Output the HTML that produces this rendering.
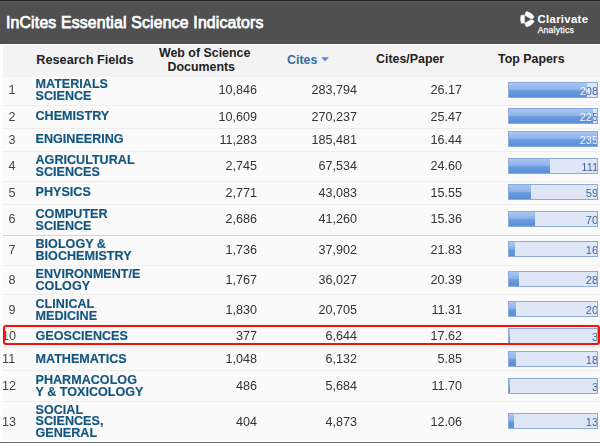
<!DOCTYPE html><html><head><meta charset="utf-8"><title>InCites Essential Science Indicators</title><style>
html,body{margin:0;padding:0;}
body{width:600px;height:443px;overflow:hidden;background:#fff;position:relative;font-family:"Liberation Sans",Arial,sans-serif;}
#hdr{position:absolute;left:0;top:0;width:600px;height:44px;background:linear-gradient(#232323 0,#232323 1px,#5a5a5a 1px,#5a5a5a 2px,#505050 2px);box-sizing:border-box;}
#title{position:absolute;left:6px;top:13.3px;font-size:15.8px;font-weight:normal;-webkit-text-stroke:0.75px #fff;color:#fff;white-space:nowrap;line-height:20px;letter-spacing:0.18px;}
#logo{position:absolute;left:515px;top:8px;}
#cl1{position:absolute;left:537.5px;top:12.3px;font-size:11.4px;font-weight:bold;color:#fff;line-height:14px;white-space:nowrap;letter-spacing:0.3px}
#cl2{position:absolute;left:537.7px;top:25px;font-size:8.6px;color:#fff;-webkit-text-stroke:0.25px #fff;line-height:10px;white-space:nowrap;letter-spacing:0.2px}
#tbl{position:absolute;left:3px;top:45px;width:597px;height:395.5px;background:#fafafa;}
#thead{position:absolute;left:3px;top:45px;width:597px;height:32px;background:#f3f3f3;}
.th{position:absolute;font-size:12.4px;font-weight:bold;color:#222;white-space:nowrap;line-height:14px;}
.sep{position:absolute;left:3px;width:597px;height:1px;background:#eeeeee;}
.seam{position:absolute;left:3px;width:597px;height:1px;background:#d3d3d3;border-bottom:1px solid #fdfdfd;}
.idx{transform:scaleY(1.06);position:absolute;font-size:12.6px;color:#444;line-height:14px;white-space:nowrap;}
.nm{transform:scaleY(1.06);position:absolute;left:35.5px;font-size:12.6px;font-weight:bold;color:#12557f;-webkit-text-stroke:0.15px #12557f;line-height:11.037735849056602px;white-space:nowrap;}
.num{transform:scaleY(1.06);position:absolute;font-size:12.6px;color:#333;line-height:14px;text-align:right;white-space:nowrap;}
.bar{position:absolute;left:508px;width:90px;height:16px;background:#dfe7f6;border:1px solid #8eaadb;box-sizing:border-box;overflow:hidden;}
.bar .v{position:absolute;left:0;width:89.2px;text-align:right;top:0.9px;font-size:11.1px;line-height:15px;color:transparent;-webkit-background-clip:text;background-clip:text;}
.fill{position:absolute;left:0;top:0;height:14px;overflow:hidden;background:linear-gradient(#a9c6ef 0%,#8fb4ea 45%,#6a9be0 55%,#5a8ed8 100%);}
#red{position:absolute;left:3px;top:324.9px;width:596.6px;height:20.1px;border:2px solid #fb1009;border-radius:3px;box-sizing:border-box;}
#bot{position:absolute;left:0;top:441.6px;width:600px;height:1.4px;background:linear-gradient(#8a8a8a,#4a4a4a);}
</style></head><body>
<div id="hdr"></div><div id="title">InCites Essential Science Indicators</div>
<svg id="logo" width="22" height="22" viewBox="0 0 22 22"><g fill="#fff" stroke="#fff" stroke-width="0.5" stroke-linejoin="round" transform="translate(0,0.35)"><path d="M6.1 6.8 L9.4 6.8 L9.6 14.7 L6.3 15.0 Q4.7 10.9 6.1 6.8 Z"/><path d="M9.9 7.0 L10.8 3.7 L12.3 3.25 Q16.9 4.9 19.1 8.4 L17.8 10.2 L15.9 10.3 Z"/><path d="M9.9 14.7 L10.8 18.0 L12.3 18.45 Q16.9 16.8 19.1 13.3 L17.8 11.5 L15.9 11.4 Z"/></g></svg>
<div id="cl1">Clarivate</div><div id="cl2">Analytics</div>
<div id="tbl"></div><div id="thead"></div>
<div class="th" style="left:36.3px;top:52.6px;font-size:12.7px">Research Fields</div>
<div class="th" style="left:159px;top:45.9px">Web of Science</div>
<div class="th" style="left:167.5px;top:60.4px">Documents</div>
<div class="th" style="left:287px;top:52.7px;color:#356ba5">Cites</div>
<svg style="position:absolute;left:320.8px;top:57.4px" width="9" height="5" viewBox="0 0 9 5"><path d="M0.3 0.3 L7.9 0.3 L4.1 4.4 Z" fill="#5788d0"/></svg>
<div class="th" style="left:376px;top:52.4px">Cites/Paper</div>
<div class="th" style="left:498px;top:52.4px">Top Papers</div>
<div class="idx" style="top:83.40px;left:8.6px">1</div>
<div class="nm" style="top:79.46px">MATERIALS<br>SCIENCE</div>
<div class="num" style="right:343px;top:83.40px">10,846</div>
<div class="num" style="right:243px;top:83.40px">283,794</div>
<div class="num" style="right:138px;top:83.40px">26.17</div>
<div class="bar" style="top:82px"><div class="fill" style="width:77.9px"></div><span class="v" style="background-image:linear-gradient(90deg,#fff 0,#fff 77.9px,#3c5f97 77.9px)">208</span></div>
<div class="sep" style="top:104.5px"></div>
<div class="idx" style="top:109.70px;left:8.6px">2</div>
<div class="nm" style="top:111.28px">CHEMISTRY</div>
<div class="num" style="right:343px;top:109.70px">10,609</div>
<div class="num" style="right:243px;top:109.70px">270,237</div>
<div class="num" style="right:138px;top:109.70px">25.47</div>
<div class="bar" style="top:108px"><div class="fill" style="width:84.3px"></div><span class="v" style="background-image:linear-gradient(90deg,#fff 0,#fff 84.3px,#3c5f97 84.3px)">225</span></div>
<div class="sep" style="top:127.5px"></div>
<div class="idx" style="top:132.70px;left:8.6px">3</div>
<div class="nm" style="top:134.28px">ENGINEERING</div>
<div class="num" style="right:343px;top:132.70px">11,283</div>
<div class="num" style="right:243px;top:132.70px">185,481</div>
<div class="num" style="right:138px;top:132.70px">16.44</div>
<div class="bar" style="top:131px"><div class="fill" style="width:88.0px"></div><span class="v" style="background-image:linear-gradient(90deg,#fff 0,#fff 88.0px,#3c5f97 88.0px)">235</span></div>
<div class="sep" style="top:150.5px"></div>
<div class="idx" style="top:159.20px;left:8.6px">4</div>
<div class="nm" style="top:155.26px">AGRICULTURAL<br>SCIENCES</div>
<div class="num" style="right:343px;top:159.20px">2,745</div>
<div class="num" style="right:243px;top:159.20px">67,534</div>
<div class="num" style="right:138px;top:159.20px">24.60</div>
<div class="bar" style="top:158px"><div class="fill" style="width:40.8px"></div><span class="v" style="background-image:linear-gradient(90deg,#fff 0,#fff 40.8px,#3c5f97 40.8px)">111</span></div>
<div class="sep" style="top:180.5px"></div>
<div class="idx" style="top:185.70px;left:8.6px">5</div>
<div class="nm" style="top:187.28px">PHYSICS</div>
<div class="num" style="right:343px;top:185.70px">2,771</div>
<div class="num" style="right:243px;top:185.70px">43,083</div>
<div class="num" style="right:138px;top:185.70px">15.55</div>
<div class="bar" style="top:184px"><div class="fill" style="width:21.7px"></div><span class="v" style="background-image:linear-gradient(90deg,#fff 0,#fff 21.7px,#3c5f97 21.7px)">59</span></div>
<div class="sep" style="top:203.5px"></div>
<div class="idx" style="top:212.45px;left:8.6px">6</div>
<div class="nm" style="top:208.51px">COMPUTER<br>SCIENCE</div>
<div class="num" style="right:343px;top:212.45px">2,686</div>
<div class="num" style="right:243px;top:212.45px">41,260</div>
<div class="num" style="right:138px;top:212.45px">15.36</div>
<div class="bar" style="top:211px"><div class="fill" style="width:25.8px"></div><span class="v" style="background-image:linear-gradient(90deg,#fff 0,#fff 25.8px,#3c5f97 25.8px)">70</span></div>
<div class="seam" style="top:234.5px"></div>
<div class="idx" style="top:242.60px;left:8.6px">7</div>
<div class="nm" style="top:238.66px">BIOLOGY &amp;<br>BIOCHEMISTRY</div>
<div class="num" style="right:343px;top:242.60px">1,736</div>
<div class="num" style="right:243px;top:242.60px">37,902</div>
<div class="num" style="right:138px;top:242.60px">21.83</div>
<div class="bar" style="top:241px"><div class="fill" style="width:5.9px"></div><span class="v" style="background-image:linear-gradient(90deg,#fff 0,#fff 5.9px,#3c5f97 5.9px)">16</span></div>
<div class="sep" style="top:264.5px"></div>
<div class="idx" style="top:272.70px;left:8.6px">8</div>
<div class="nm" style="top:268.76px">ENVIRONMENT/E<br>COLOGY</div>
<div class="num" style="right:343px;top:272.70px">1,767</div>
<div class="num" style="right:243px;top:272.70px">36,027</div>
<div class="num" style="right:138px;top:272.70px">20.39</div>
<div class="bar" style="top:271px"><div class="fill" style="width:10.3px"></div><span class="v" style="background-image:linear-gradient(90deg,#fff 0,#fff 10.3px,#3c5f97 10.3px)">28</span></div>
<div class="sep" style="top:294.0px"></div>
<div class="idx" style="top:302.70px;left:8.6px">9</div>
<div class="nm" style="top:298.76px">CLINICAL<br>MEDICINE</div>
<div class="num" style="right:343px;top:302.70px">1,830</div>
<div class="num" style="right:243px;top:302.70px">20,705</div>
<div class="num" style="right:138px;top:302.70px">11.31</div>
<div class="bar" style="top:301px"><div class="fill" style="width:7.4px"></div><span class="v" style="background-image:linear-gradient(90deg,#fff 0,#fff 7.4px,#3c5f97 7.4px)">20</span></div>
<div class="sep" style="top:323.5px"></div>
<div class="idx" style="top:329.10px;left:2.1px">10</div>
<div class="nm" style="top:330.68px">GEOSCIENCES</div>
<div class="num" style="right:343px;top:329.10px">377</div>
<div class="num" style="right:243px;top:329.10px">6,644</div>
<div class="num" style="right:138px;top:329.10px">17.62</div>
<div class="bar" style="top:328px"><div class="fill" style="width:1.1px"></div><span class="v" style="background-image:linear-gradient(90deg,#fff 0,#fff 1.1px,#3c5f97 1.1px)">3</span></div>
<div class="sep" style="top:346.5px"></div>
<div class="idx" style="top:351.95px;left:2.1px">11</div>
<div class="nm" style="top:353.53px">MATHEMATICS</div>
<div class="num" style="right:343px;top:351.95px">1,048</div>
<div class="num" style="right:243px;top:351.95px">6,132</div>
<div class="num" style="right:138px;top:351.95px">5.85</div>
<div class="bar" style="top:351px"><div class="fill" style="width:6.6px"></div><span class="v" style="background-image:linear-gradient(90deg,#fff 0,#fff 6.6px,#3c5f97 6.6px)">18</span></div>
<div class="sep" style="top:370.0px"></div>
<div class="idx" style="top:378.95px;left:2.1px">12</div>
<div class="nm" style="top:375.01px">PHARMACOLOG<br>Y &amp; TOXICOLOGY</div>
<div class="num" style="right:343px;top:378.95px">486</div>
<div class="num" style="right:243px;top:378.95px">5,684</div>
<div class="num" style="right:138px;top:378.95px">11.70</div>
<div class="bar" style="top:378px"><div class="fill" style="width:1.1px"></div><span class="v" style="background-image:linear-gradient(90deg,#fff 0,#fff 1.1px,#3c5f97 1.1px)">3</span></div>
<div class="sep" style="top:400.5px"></div>
<div class="idx" style="top:414.80px;left:2.1px">13</div>
<div class="nm" style="top:405.34px">SOCIAL<br>SCIENCES,<br>GENERAL</div>
<div class="num" style="right:343px;top:414.80px">404</div>
<div class="num" style="right:243px;top:414.80px">4,873</div>
<div class="num" style="right:138px;top:414.80px">12.06</div>
<div class="bar" style="top:413px"><div class="fill" style="width:4.8px"></div><span class="v" style="background-image:linear-gradient(90deg,#fff 0,#fff 4.8px,#3c5f97 4.8px)">13</span></div>
<div id="red"></div><div id="bot"></div>
</body></html>
